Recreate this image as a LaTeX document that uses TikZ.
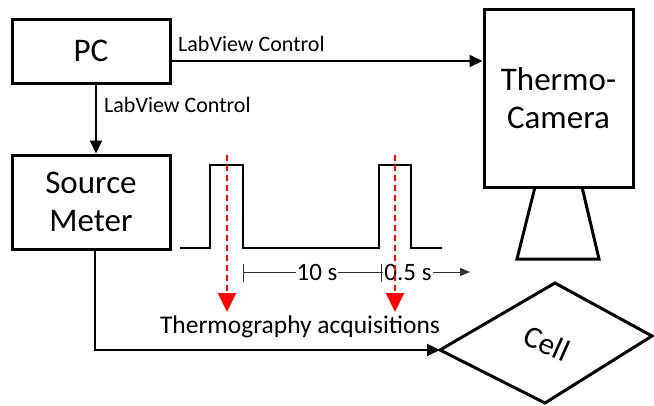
\documentclass[tikz,border=0pt]{standalone}
\usepackage{fontspec}
\setmainfont{Carlito}
\usetikzlibrary{arrows.meta}
\begin{document}
\begin{tikzpicture}[x=1pt,y=-1pt,
  box/.style={draw, line width=3pt, inner sep=0pt, font=\fontsize{33}{38}\selectfont, align=center},
  conn/.style={line width=2pt, -{Triangle[length=13pt,width=12pt]}},
  lbl/.style={font=\fontsize{22}{24}\selectfont, inner sep=0pt, anchor=west},
  tl/.style={line width=1pt, black!80},
  tlbl/.style={font=\fontsize{25}{28}\selectfont, fill=white, inner sep=1pt},
  acq/.style={red, dashed, dash pattern=on 6pt off 4pt, line width=2pt, -{Triangle[length=19pt,width=18pt]}}]
\useasboundingbox (0,0) rectangle (654,405);

\node[box, minimum width=158pt, minimum height=64pt] (pc) at (91,51) {PC};
\node[box, minimum width=158pt, minimum height=94pt] (sm) at (91,202) {Source\\Meter};
\node[box, minimum width=149pt, minimum height=178pt] (cam) at (558.5,98) {Thermo-\\Camera};

% camera stand
\draw[line width=3pt, line join=miter] (535,187) -- (517,259) -- (599,259) -- (582,187);

% cell
\coordinate (cl) at (440,350);
\coordinate (ct) at (555,283);
\coordinate (cr) at (652,336);
\coordinate (cb) at (545,403);
\draw[line width=3pt, line join=miter] (cl) -- (ct) -- (cr) -- (cb) -- cycle;
\node[font=\fontsize{31}{34}\selectfont, rotate=-24, inner sep=0pt] (cell) at (547,343) {Cell};

% connectors
\draw[conn] (pc.east |- 0,61) -- (cam.west |- 0,61);
\node[lbl] (l1) at (178,44) {LabView Control};
\draw[conn] (pc.south -| 96,0) -- (sm.north -| 96,0);
\node[lbl] (l2) at (104,105) {LabView Control};
\draw[conn] (sm.south -| 95,0) |- (cl);

% pulse
\draw[line width=2pt] (180,248) -- (210,248) -- (210,165) -- (243,165) -- (243,248) -- (379,248) -- (379,165) -- (411,165) -- (411,248) -- (442,248);

% timeline
\coordinate (t0) at (243,272);
\coordinate (t1) at (381,272);
\coordinate (tend) at (470,272);
\draw[tl] (243,264) -- (243,282);
\draw[tl] (381,264) -- (381,282);
\draw[tl, -{Triangle[length=10pt,width=8pt]}] (t0) -- (tend);
\node[tlbl] (ten) at (317,272) {10 s};
\node[tlbl] (half) at (408,272) {0.5 s};

% acquisitions
\coordinate (a1) at (227,155);
\coordinate (a2) at (395,155);
\draw[acq] (a1) -- (227,312);
\draw[acq] (a2) -- (395,312);
\node[font=\fontsize{25.5}{28}\selectfont] (acqt) at (300,327) {Thermography acquisitions};
\end{tikzpicture}
\end{document}
